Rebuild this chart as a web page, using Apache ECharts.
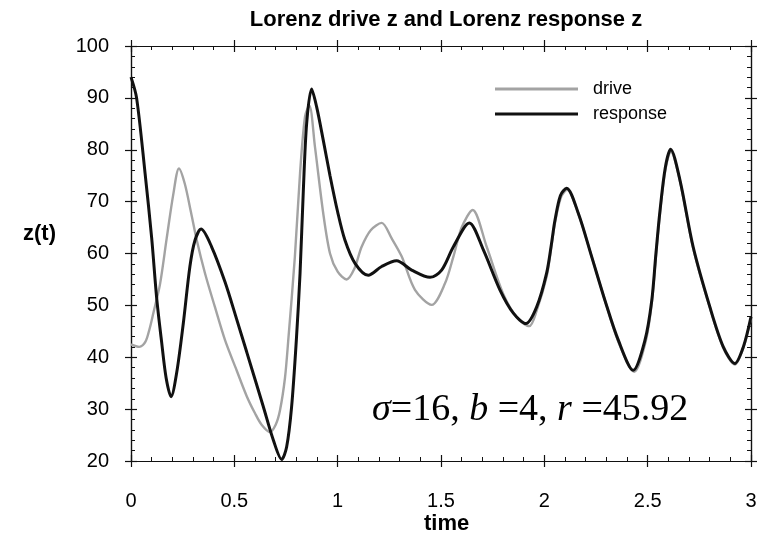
<!DOCTYPE html>
<html>
<head>
<meta charset="utf-8">
<script src="https://cdn.jsdelivr.net/npm/echarts@6/dist/echarts.min.js"></script>
<style>html,body{margin:0;padding:0;background:#fff;}#chart{width:760px;height:534px;}</style>
</head>
<body>
<div id="chart"></div>
<script>
// ---- data ----
const titleText = 'Lorenz drive z and Lorenz response z';
const seriesNames = ['drive', 'response'];
const xTicks = [0, 0.5, 1, 1.5, 2, 2.5, 3];
const yTicks = [20, 30, 40, 50, 60, 70, 80, 90, 100];

const driveT = [0, 0.04, 0.07, 0.09, 0.108, 0.14, 0.173, 0.205, 0.232, 0.26, 0.29, 0.318, 0.358, 0.406, 0.455, 0.511, 0.56, 0.6, 0.632, 0.672, 0.70, 0.721, 0.745, 0.761, 0.793, 0.818, 0.842, 0.863, 0.89, 0.93, 0.963, 1.0, 1.043, 1.08, 1.116, 1.16, 1.213, 1.26, 1.31, 1.374, 1.455, 1.519, 1.56, 1.6, 1.653, 1.721, 1.80, 1.87, 1.927, 1.963, 2.011, 2.035, 2.051, 2.08, 2.11, 2.17, 2.229, 2.293, 2.358, 2.435, 2.49, 2.52, 2.54, 2.559, 2.585, 2.612, 2.656, 2.72, 2.801, 2.866, 2.922, 2.963, 3.0];
const driveZ = [42.5, 42, 43, 45.5, 48.5, 54, 63, 71.5, 76.4, 73.5, 68, 62.6, 56.2, 49.7, 43.3, 37.5, 32.5, 29.2, 27, 25.6, 27, 29.8, 36, 43.3, 59.4, 75.5, 86.4, 88.5, 80.6, 67.8, 60, 56.5, 55, 57, 61.3, 64.5, 65.9, 63, 59.4, 53, 50.1, 54.2, 59.4, 65, 68.4, 61.3, 52.3, 47.5, 46, 49, 55.5, 61.5, 65.8, 70.8, 72.3, 67, 59.4, 51, 43, 37.2, 43, 50.5, 59.5, 67.5, 76, 79.6, 74, 61, 49.5, 41.8, 38.6, 41.8, 47.5];

const responseT = [0, 0.027, 0.068, 0.1, 0.124, 0.148, 0.17, 0.194, 0.221, 0.253, 0.285, 0.31, 0.339, 0.39, 0.455, 0.51, 0.56, 0.64, 0.689, 0.729, 0.753, 0.777, 0.80, 0.818, 0.834, 0.85, 0.874, 0.898, 0.93, 0.963, 1.0, 1.035, 1.084, 1.148, 1.213, 1.285, 1.358, 1.447, 1.503, 1.56, 1.637, 1.705, 1.785, 1.85, 1.911, 1.963, 2.011, 2.035, 2.051, 2.078, 2.108, 2.164, 2.229, 2.293, 2.358, 2.43, 2.487, 2.52, 2.54, 2.559, 2.585, 2.611, 2.656, 2.72, 2.801, 2.866, 2.922, 2.963, 3.0];
const responseZ = [94, 90, 75.5, 63, 51.5, 43, 36, 32.4, 37, 46.5, 57.5, 62.6, 64.7, 61.3, 54.5, 47.5, 41, 30.5, 24, 20.3, 22.7, 30.4, 43.3, 56.2, 72.3, 85.1, 91.7, 88.3, 81.9, 75, 68, 62.6, 58.1, 55.8, 57.5, 58.6, 56.8, 55.4, 56.8, 61.3, 65.9, 60.7, 53, 48.5, 46.5, 49.7, 56.2, 62, 66.3, 71.2, 72.6, 67.8, 59.4, 51, 43.3, 37.5, 43.3, 51, 60, 68, 76.5, 80.1, 74.2, 61.3, 49.7, 42, 38.8, 42, 47.8];

const paramsLabel = '{i|σ}=16, {i|b} =4, {i|r} =45.92';

// ---- chart ----
const chart = echarts.init(document.getElementById('chart'), null, {renderer: 'canvas'});
const axisColor = '#111';
const lineSt = {color: axisColor, width: 1.2};
const xMin = xTicks[0], xMax = xTicks[xTicks.length - 1], xInt = xTicks[1] - xTicks[0];
const yMin = yTicks[0], yMax = yTicks[yTicks.length - 1], yInt = yTicks[1] - yTicks[0];

function xAx(pos, inside, labels, minor) {
  return {
    type: 'value', position: pos, min: xMin, max: xMax, interval: xInt,
    axisLine: {show: true, onZero: false, lineStyle: lineSt},
    axisTick: {show: true, inside: inside, length: 6, lineStyle: lineSt},
    minorTick: {show: minor, splitNumber: 5, length: 4, lineStyle: {color: axisColor, width: 1}},
    splitLine: {show: false}, minorSplitLine: {show: false},
    axisLabel: {show: labels, color: '#000', fontFamily: 'Liberation Sans, Arial', fontSize: 20, margin: 30}
  };
}
function yAx(pos, inside, labels, minor) {
  return {
    type: 'value', position: pos, min: yMin, max: yMax, interval: yInt,
    axisLine: {show: true, onZero: false, lineStyle: lineSt},
    axisTick: {show: true, inside: inside, length: 6, lineStyle: lineSt},
    minorTick: {show: minor, splitNumber: 5, length: 4, lineStyle: {color: axisColor, width: 1}},
    splitLine: {show: false}, minorSplitLine: {show: false},
    axisLabel: {show: labels, color: '#000', fontFamily: 'Liberation Sans, Arial', fontSize: 20, margin: 22}
  };
}

const option = {
  animation: false,
  backgroundColor: '#fff',
  title: {
    text: titleText, left: 441, top: 4, textAlign: 'center',
    textStyle: {fontFamily: 'Liberation Sans, Arial', fontWeight: 'bold', fontSize: 22, color: '#000'}
  },
  legend: {
    orient: 'vertical', left: 490, top: 75, itemWidth: 83, itemHeight: 3, itemGap: 7,
    data: [{name: seriesNames[0], icon: 'rect'}, {name: seriesNames[1], icon: 'rect'}],
    textStyle: {fontFamily: 'Liberation Sans, Arial', fontSize: 18, color: '#000', padding: [0, 0, 0, 10]}
  },
  grid: {left: 131, right: 9, top: 46, bottom: 73, containLabel: false},
  xAxis: [xAx('bottom', true, true, true), xAx('bottom', false, false, false), xAx('top', true, false, true), xAx('top', false, false, false)],
  yAxis: [yAx('left', true, true, true), yAx('left', false, false, false), yAx('right', true, false, true), yAx('right', false, false, false)],
  graphic: [
    {type: 'text', left: 23, top: 223, style: {text: 'z(t)', font: 'bold 22px "Liberation Sans", Arial', fill: '#000'}},
    {type: 'text', left: 424, top: 513, style: {text: 'time', font: 'bold 22px "Liberation Sans", Arial', fill: '#000'}},
    {type: 'text', left: 372, top: 391, style: {
      text: paramsLabel, fill: '#000',
      font: '38px "Liberation Serif", "Times New Roman", serif',
      rich: {i: {fontStyle: 'italic', fontFamily: 'Liberation Serif', fontSize: 38, fill: '#000'}}
    }}
  ],
  series: [
    {
      name: seriesNames[0], type: 'line', xAxisIndex: 0, yAxisIndex: 0,
      data: driveT.map((t, i) => [t, driveZ[i]]),
      smooth: 0.3, symbol: 'none', showSymbol: false,
      lineStyle: {color: '#a3a3a3', width: 2.4},
      itemStyle: {color: '#a3a3a3'}, z: 2
    },
    {
      name: seriesNames[1], type: 'line', xAxisIndex: 0, yAxisIndex: 0,
      data: responseT.map((t, i) => [t, responseZ[i]]),
      smooth: 0.3, symbol: 'none', showSymbol: false,
      lineStyle: {color: '#111', width: 3},
      itemStyle: {color: '#111'}, z: 3
    }
  ]
};
chart.setOption(option);
</script>
</body>
</html>
